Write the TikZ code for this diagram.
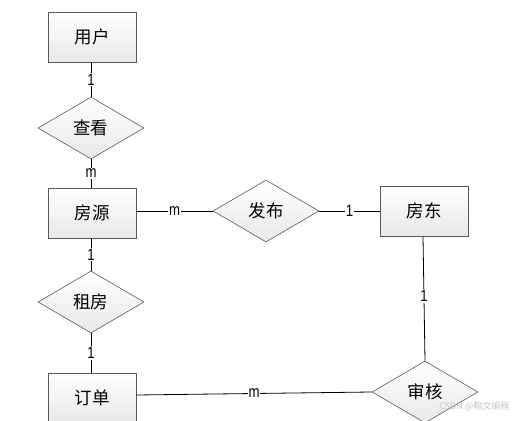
\documentclass[tikz,border=0pt]{standalone}
\usepackage{fontspec}
\setmainfont{Liberation Sans}
\newfontfamily\cjk{Noto Sans CJK SC}
\usetikzlibrary{shapes.geometric,shadows}
\tikzset{
  ent/.style={draw=gray!70!black, line width=0.6pt, top color=white, bottom color=gray!18,
    minimum width=88pt, minimum height=50pt, inner sep=0pt, font=\cjk\fontsize{17.5}{19}\selectfont,
    drop shadow={shadow xshift=1.2pt, shadow yshift=-1.2pt, fill=gray!45, opacity=0.8}},
  rel/.style={diamond, draw=gray!70!black, line width=0.6pt, top color=white, bottom color=gray!18,
    minimum width=106pt, minimum height=62pt, inner sep=0pt, font=\cjk\fontsize{17.5}{19}\selectfont},
  conn/.style={draw=black, line width=0.8pt},
  card/.style={fill=white, inner sep=1pt, xscale=0.8, font=\fontsize{16.5}{17}\selectfont},
}
\begin{document}
\begin{tikzpicture}[x=1pt,y=-1pt]
\useasboundingbox (0,0) rectangle (515,421);
\node[ent] (user) at (92,37) {用户};
\node[rel] (view) at (91,128) {查看};
\node[ent] (house) at (92,213) {房源};
\node[rel] (pub) at (266,211) {发布};
\node[ent] (owner) at (424,211) {房东};
\node[rel] (rent) at (91,302) {租房};
\node[ent] (order) at (92,398) {订单};
\node[rel] (audit) at (425,392) {审核};

\draw[conn] (user.south -| view.north) -- node[card] {1} (view.north);
\draw[conn] (view.south) -- node[card] {m} (view.south |- house.north);
\draw[conn] (house.east |- pub.west) -- node[card] {m} (pub.west);
\draw[conn] (pub.east) -- node[card] {1} (owner.west |- pub.east);
\draw[conn] (house.south -| rent.north) -- node[card] {1} (rent.north);
\draw[conn] (rent.south) -- node[card] {1} (rent.south |- order.north);
\draw[conn] ([yshift=3pt]order.east) -- node[card] {m} (audit.west);
\draw[conn] ([xshift=-1pt]owner.south) -- node[card, pos=0.48] {1} (audit.north);

\node[text=gray!45, font=\cjk\fontsize{9}{10}\selectfont, anchor=east] (wm) at (513,406) {CSDN @翰文编程};
\end{tikzpicture}
\end{document}
